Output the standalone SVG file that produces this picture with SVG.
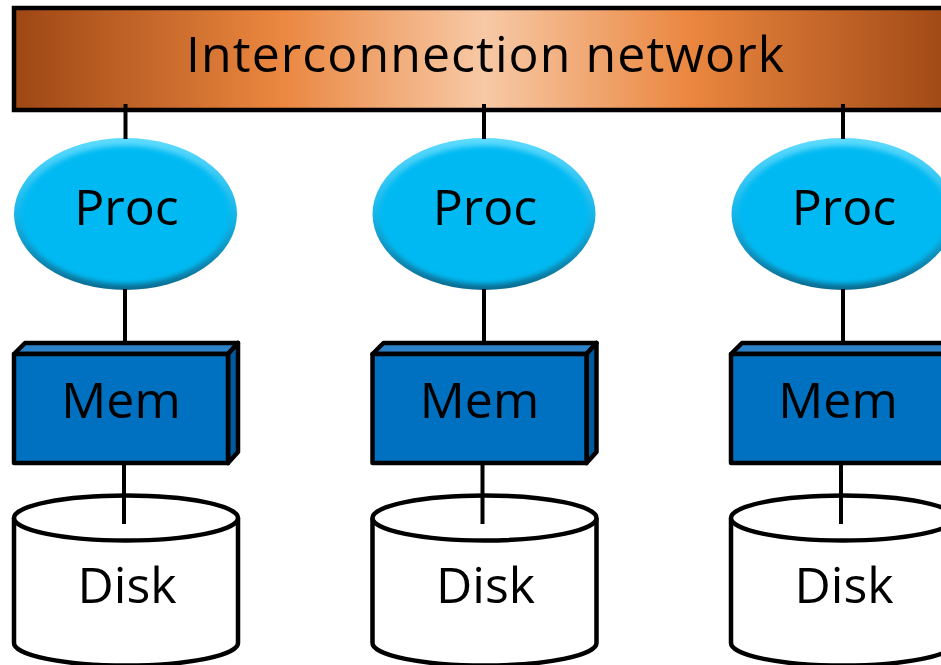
<svg xmlns="http://www.w3.org/2000/svg" width="941" height="665" viewBox="0 0 941 665">
<defs>
<linearGradient id="net" x1="14" y1="0" x2="956" y2="0" gradientUnits="userSpaceOnUse">
<stop offset="0" stop-color="#9e4714"/>
<stop offset="0.28" stop-color="#ea863f"/>
<stop offset="0.5" stop-color="#f7c9a6"/>
<stop offset="0.72" stop-color="#ea863f"/>
<stop offset="1" stop-color="#9e4714"/>
</linearGradient>
<linearGradient id="procRim" x1="0" y1="0" x2="0" y2="1">
<stop offset="0" stop-color="#5fdcff"/>
<stop offset="0.5" stop-color="#16b6ea"/>
<stop offset="1" stop-color="#0a6a8e"/>
</linearGradient>
<filter id="soft" x="-10%" y="-10%" width="120%" height="120%">
<feGaussianBlur stdDeviation="2.5"/>
</filter>
<g id="procShape">
<ellipse cx="0" cy="0" rx="111.5" ry="76" fill="url(#procRim)"/>
<ellipse cx="0" cy="1" rx="105" ry="69" fill="#00b9f2" filter="url(#soft)"/>
</g>
</defs>
<style>
text{font-family:"Open Sans","Noto Sans","Liberation Sans",sans-serif;fill:#000;text-anchor:middle;}
.lbl{font-size:50px;}
.edge{stroke:#000;stroke-width:4;fill:none;}
.front{fill:#0070c0;stroke:#000;stroke-width:4.5;stroke-linejoin:round;}
.top{fill:#2b82c9;stroke:#000;stroke-width:4.5;stroke-linejoin:round;}
.side{fill:#005a9c;stroke:#000;stroke-width:4.5;stroke-linejoin:round;}
.disk{fill:#fff;stroke:#000;stroke-width:4.5;}
</style>
<g id="network">
<rect x="14" y="8" width="945" height="102" fill="url(#net)" stroke="#000" stroke-width="4.5"/>
<text class="lbl" x="485" y="72" textLength="598" lengthAdjust="spacing">Interconnection network</text>
</g>
<g id="proc1" transform="translate(125.5,214)">
<use href="#procShape"/>
<text class="lbl" x="1" y="11">Proc</text>
</g>
<g id="proc2" transform="translate(484,214)">
<use href="#procShape"/>
<text class="lbl" x="1" y="11">Proc</text>
</g>
<g id="proc3" transform="translate(843,214)">
<use href="#procShape"/>
<text class="lbl" x="1" y="11">Proc</text>
</g>
<g id="connectors">
<line class="edge" x1="125.5" y1="104" x2="125.5" y2="139"/>
<line class="edge" x1="484" y1="104" x2="484" y2="139"/>
<line class="edge" x1="843" y1="104" x2="843" y2="139"/>
<line class="edge" x1="125" y1="289" x2="125" y2="354"/>
<line class="edge" x1="484" y1="289" x2="484" y2="354"/>
<line class="edge" x1="843" y1="289" x2="843" y2="354"/>
</g>
<g id="mem1" transform="translate(0,0)">
<polygon class="top" points="14,354 25,343 238,343 228,354"/>
<polygon class="side" points="228,354 238,343 238,452 228,463"/>
<rect class="front" x="14" y="354" width="214" height="109"/>
<text class="lbl" x="121" y="418">Mem</text>
</g>
<g id="mem2" transform="translate(358.5,0)">
<polygon class="top" points="14,354 25,343 238,343 228,354"/>
<polygon class="side" points="228,354 238,343 238,452 228,463"/>
<rect class="front" x="14" y="354" width="214" height="109"/>
<text class="lbl" x="121" y="418">Mem</text>
</g>
<g id="mem3" transform="translate(717,0)">
<polygon class="top" points="14,354 25,343 238,343 228,354"/>
<polygon class="side" points="228,354 238,343 238,452 228,463"/>
<rect class="front" x="14" y="354" width="214" height="109"/>
<text class="lbl" x="121" y="418">Mem</text>
</g>
<g id="disk1" transform="translate(0,0)">
<path class="disk" d="M14,518 L14,643 A112,22.5 0 0 0 238,643 L238,518"/>
<ellipse class="disk" cx="126" cy="518" rx="112" ry="22.5"/>
<text class="lbl" x="127" y="603">Disk</text>
</g>
<g id="disk2" transform="translate(358.5,0)">
<path class="disk" d="M14,518 L14,643 A112,22.5 0 0 0 238,643 L238,518"/>
<ellipse class="disk" cx="126" cy="518" rx="112" ry="22.5"/>
<text class="lbl" x="127" y="603">Disk</text>
</g>
<g id="disk3" transform="translate(717,0)">
<path class="disk" d="M14,518 L14,643 A112,22.5 0 0 0 238,643 L238,518"/>
<ellipse class="disk" cx="126" cy="518" rx="112" ry="22.5"/>
<text class="lbl" x="127" y="603">Disk</text>
</g>
<g id="connectors2">
<line class="edge" x1="124" y1="463" x2="124" y2="524"/>
<line class="edge" x1="482.5" y1="463" x2="482.5" y2="524"/>
<line class="edge" x1="841" y1="463" x2="841" y2="524"/>
</g>
</svg>
